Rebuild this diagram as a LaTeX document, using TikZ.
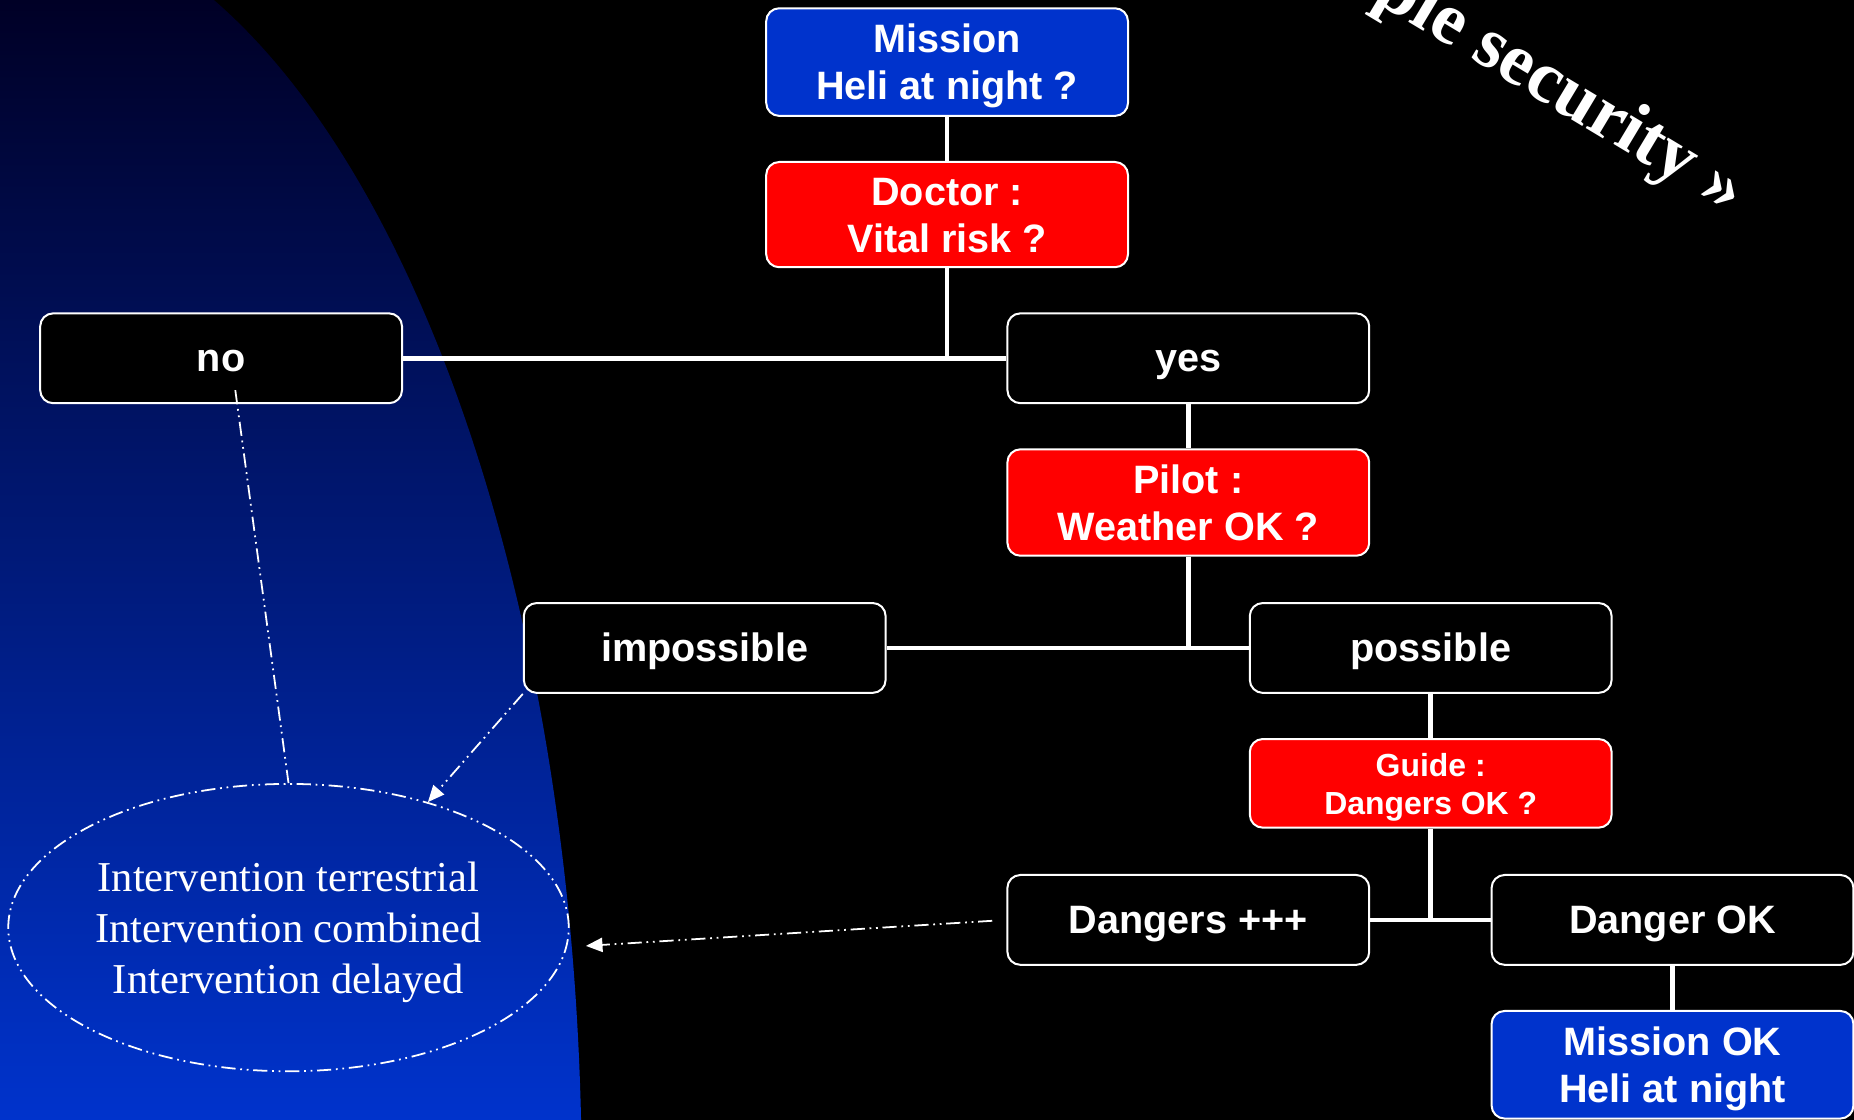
\documentclass[tikz,border=0pt]{standalone}
\usepackage{fontspec}
\setmainfont{Liberation Sans}
\newfontfamily\timesf{Liberation Serif}
\usetikzlibrary{arrows.meta,calc,shapes.geometric}
\definecolor{boxblue}{RGB}{0,51,204}
\definecolor{boxred}{RGB}{255,0,0}
\definecolor{bgtop}{RGB}{0,0,38}
\definecolor{bgmid}{RGB}{0,30,120}
\definecolor{bgbot}{RGB}{0,51,204}
\newcommand\twol[2]{\begin{tabular}[t]{@{}c@{}}#1\\#2\end{tabular}}
\newcommand\threel[3]{\begin{tabular}[t]{@{}c@{}}#1\\#2\\#3\end{tabular}}
\begin{document}
\begin{tikzpicture}[x=1pt,y=-1pt,
  box/.style={draw=white, line width=1.7pt, rounded corners=11pt, minimum width=306pt,
    text=white, font={\bfseries\fontsize{33.5}{40}\selectfont}, inner sep=0pt},
  single/.style={box, fill=black, minimum height=76pt, text height=30.3pt, text depth=7.1pt},
  double/.style={text height=30pt, text depth=46pt},
  bluebox/.style={box, double, fill=boxblue, minimum height=91pt},
  redbox/.style={box, double, fill=boxred, minimum height=90pt},
  link/.style={draw=white, line width=4pt},
  dashdot/.style={draw=white, line width=1.5pt,
    dash pattern=on 12pt off 4pt on 1.5pt off 4pt on 1.5pt off 4pt},
  tip/.style={-{Triangle[length=14pt,width=12pt]}}
]
\useasboundingbox (0,0) rectangle (1568,947.2);
% background
\fill[black] (0,0) rectangle (1568,947.2);
\begin{scope}
  \clip (0,1000) ellipse [x radius=492, y radius=1075];
  \shade[top color=bgtop, middle color=bgmid, bottom color=bgbot] (0,0) rectangle (1568,947.2);
\end{scope}

% rotated title fragment
\begin{scope}
  \clip (0,0) rectangle (1568,947.2);
  \node[rotate=-31, anchor=base west, inner sep=0pt, text=white,
    font={\timesf\bfseries\fontsize{62}{74}\selectfont}] (sec) at (1161,0) {ple security »};
\end{scope}

% nodes
\node[bluebox] (mission) at (801,52.5) {\twol{Mission}{Heli at night ?}};
\node[redbox, minimum height=89pt] (doctor) at (801,181.5) {\twol{Doctor :}{Vital risk ?}};
\node[single] (no) at (187,303) {no};
\node[single] (yes) at (1005,303) {yes};
\node[redbox] (pilot) at (1005,425) {\twol{Pilot :}{Weather OK ?}};
\node[single] (impossible) at (596,548) {impossible};
\node[single] (possible) at (1210,548) {possible};
\node[redbox, minimum height=75pt, text height=25pt, text depth=36pt,
  font={\bfseries\fontsize{27}{32}\selectfont}] (guide) at (1210,662.5) {\twol{Guide :}{Dangers OK ?}};
\node[single] (dangers) at (1005,778) {Dangers +++};
\node[single] (dangerok) at (1414.5,778) {Danger OK};
\node[bluebox] (missionok) at (1414.5,900.5) {\twol{Mission OK}{Heli at night}};

\node[ellipse, dashdot, minimum width=474pt, minimum height=243pt, inner sep=0pt,
  text height=30pt, text depth=91pt,
  text=white, font={\timesf\fontsize{36}{43}\selectfont}] (ell) at (244,784.5)
  {\threel{Intervention terrestrial}{Intervention combined}{Intervention delayed}};

% tree connectors
\draw[link] (mission.south) -- (doctor.north);
\draw[link] (doctor.south) -- (doctor.south |- no.east);
\draw[link] (no.east) -- (yes.west);
\draw[link] (yes.south) -- (pilot.north);
\draw[link] (pilot.south) -- (pilot.south |- impossible.east);
\draw[link] (impossible.east) -- (possible.west);
\draw[link] (possible.south) -- (guide.north);
\draw[link] (guide.south) -- (guide.south |- dangers.east);
\draw[link] (dangers.east) -- (dangerok.west);
\draw[link] (dangerok.south) -- (missionok.north);

% dash-dot connectors
\coordinate (nostart) at ($(no.center)+(12,27)$);
\draw[dashdot] (nostart) -- (ell.north);
\draw[dashdot, tip] (impossible.south west) -- (ell.42);
\draw[dashdot, tip, shorten <=12pt, shorten >=16pt] (dangers.west) -- (ell.-4);
\end{tikzpicture}
\end{document}
